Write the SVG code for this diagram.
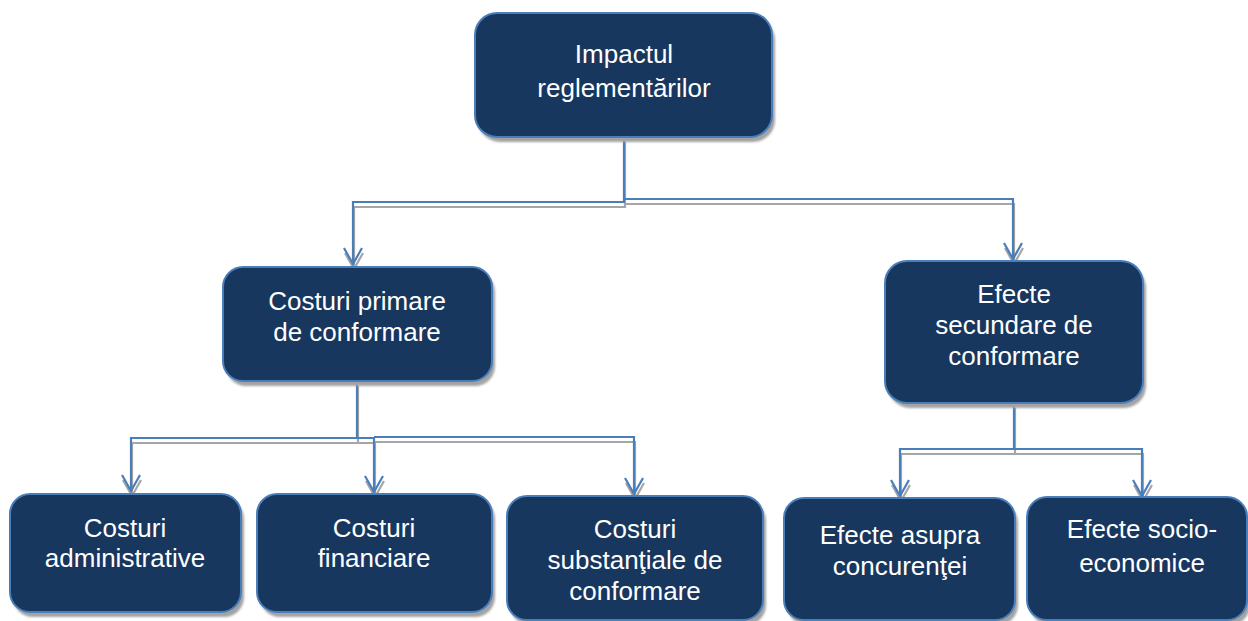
<svg xmlns="http://www.w3.org/2000/svg" width="1248" height="621" viewBox="0 0 1248 621">
<style>
.box{fill:#17375e;stroke:#4a7ebb;stroke-width:2}
.shd{fill:#a3a3a3}
.lbl{font-family:"Liberation Sans",Arial,sans-serif;font-size:26px;fill:#ffffff;text-anchor:middle}
.ln{fill:none;stroke:#4a7ebb;stroke-width:2.2}
.lns{fill:none;stroke:#a6a6a6;stroke-width:2.2}
</style>
<defs>
<filter id="blur" x="-5%" y="-5%" width="110%" height="110%"><feGaussianBlur stdDeviation="1"/></filter>
<marker id="ar" markerUnits="userSpaceOnUse" orient="auto" refX="0" refY="0" markerWidth="20" markerHeight="20" overflow="visible">
<path d="M-16,-9 L0,0 L-16,9" fill="none" stroke="#4a7ebb" stroke-width="2.2"/>
</marker>
<marker id="ars" markerUnits="userSpaceOnUse" orient="auto" refX="0" refY="0" markerWidth="20" markerHeight="20" overflow="visible">
<path d="M-16,-9 L0,0 L-16,9" fill="none" stroke="#a6a6a6" stroke-width="2.2"/>
</marker>
</defs>
<rect width="1248" height="621" fill="#ffffff"/>
<g id="connectors">
<g transform="translate(1,5)">
<path class="lns" marker-end="url(#ars)" d="M624 137 V202 H353 V264"/>
<path class="lns" marker-end="url(#ars)" d="M624 199 H1013 V259"/>
<path class="lns" marker-end="url(#ars)" d="M357 381 V438 H131 V491"/>
<path class="lns" marker-end="url(#ars)" d="M357 438 H374 V492"/>
<path class="lns" marker-end="url(#ars)" d="M374 437 H634 V494"/>
<path class="lns" marker-end="url(#ars)" d="M1014 403 V449 H900 V496"/>
<path class="lns" marker-end="url(#ars)" d="M1014 449 H1142 V496"/>
</g>
<path class="ln" marker-end="url(#ar)" d="M624 137 V202 H353 V264"/>
<path class="ln" marker-end="url(#ar)" d="M624 199 H1013 V259"/>
<path class="ln" marker-end="url(#ar)" d="M357 381 V438 H131 V491"/>
<path class="ln" marker-end="url(#ar)" d="M357 438 H374 V492"/>
<path class="ln" marker-end="url(#ar)" d="M374 437 H634 V494"/>
<path class="ln" marker-end="url(#ar)" d="M1014 403 V449 H900 V496"/>
<path class="ln" marker-end="url(#ar)" d="M1014 449 H1142 V496"/>
</g>
<g id="n-impact">
<rect class="shd" filter="url(#blur)" x="478" y="18" width="297" height="124" rx="22"/>
<rect class="box" x="475" y="13" width="297" height="124" rx="22"/>
<text class="lbl" x="624" y="63">Impactul</text>
<text class="lbl" x="624" y="97">reglementărilor</text>
</g>
<g id="n-primare">
<rect class="shd" filter="url(#blur)" x="226" y="272" width="269" height="114" rx="20"/>
<rect class="box" x="223" y="267" width="269" height="114" rx="20"/>
<text class="lbl" x="357" y="310">Costuri primare</text>
<text class="lbl" x="357" y="341">de conformare</text>
</g>
<g id="n-secundare">
<rect class="shd" filter="url(#blur)" x="888" y="266" width="258" height="142" rx="22"/>
<rect class="box" x="885" y="261" width="258" height="142" rx="22"/>
<text class="lbl" x="1014" y="303">Efecte</text>
<text class="lbl" x="1014" y="334">secundare de</text>
<text class="lbl" x="1014" y="365">conformare</text>
</g>
<g id="n-admin">
<rect class="shd" filter="url(#blur)" x="13" y="499" width="231" height="118" rx="20"/>
<rect class="box" x="10" y="494" width="231" height="118" rx="20"/>
<text class="lbl" x="125" y="537">Costuri</text>
<text class="lbl" x="125" y="567">administrative</text>
</g>
<g id="n-financiare">
<rect class="shd" filter="url(#blur)" x="260" y="499" width="235" height="118" rx="20"/>
<rect class="box" x="257" y="494" width="235" height="118" rx="20"/>
<text class="lbl" x="374" y="537">Costuri</text>
<text class="lbl" x="374" y="567">financiare</text>
</g>
<g id="n-substantiale">
<rect class="shd" filter="url(#blur)" x="510" y="501" width="256" height="124" rx="20"/>
<rect class="box" x="507" y="496" width="256" height="124" rx="20"/>
<text class="lbl" x="635" y="538">Costuri</text>
<text class="lbl" x="635" y="569">substanţiale de</text>
<text class="lbl" x="635" y="600">conformare</text>
</g>
<g id="n-concurenta">
<rect class="shd" filter="url(#blur)" x="787" y="503" width="231" height="122" rx="20"/>
<rect class="box" x="784" y="498" width="231" height="122" rx="20"/>
<text class="lbl" x="900" y="544">Efecte asupra</text>
<text class="lbl" x="900" y="575">concurenţei</text>
</g>
<g id="n-socio">
<rect class="shd" filter="url(#blur)" x="1030" y="502" width="220" height="123" rx="20"/>
<rect class="box" x="1027" y="497" width="220" height="123" rx="20"/>
<text class="lbl" x="1142" y="538">Efecte socio-</text>
<text class="lbl" x="1142" y="572">economice</text>
</g>
</svg>
